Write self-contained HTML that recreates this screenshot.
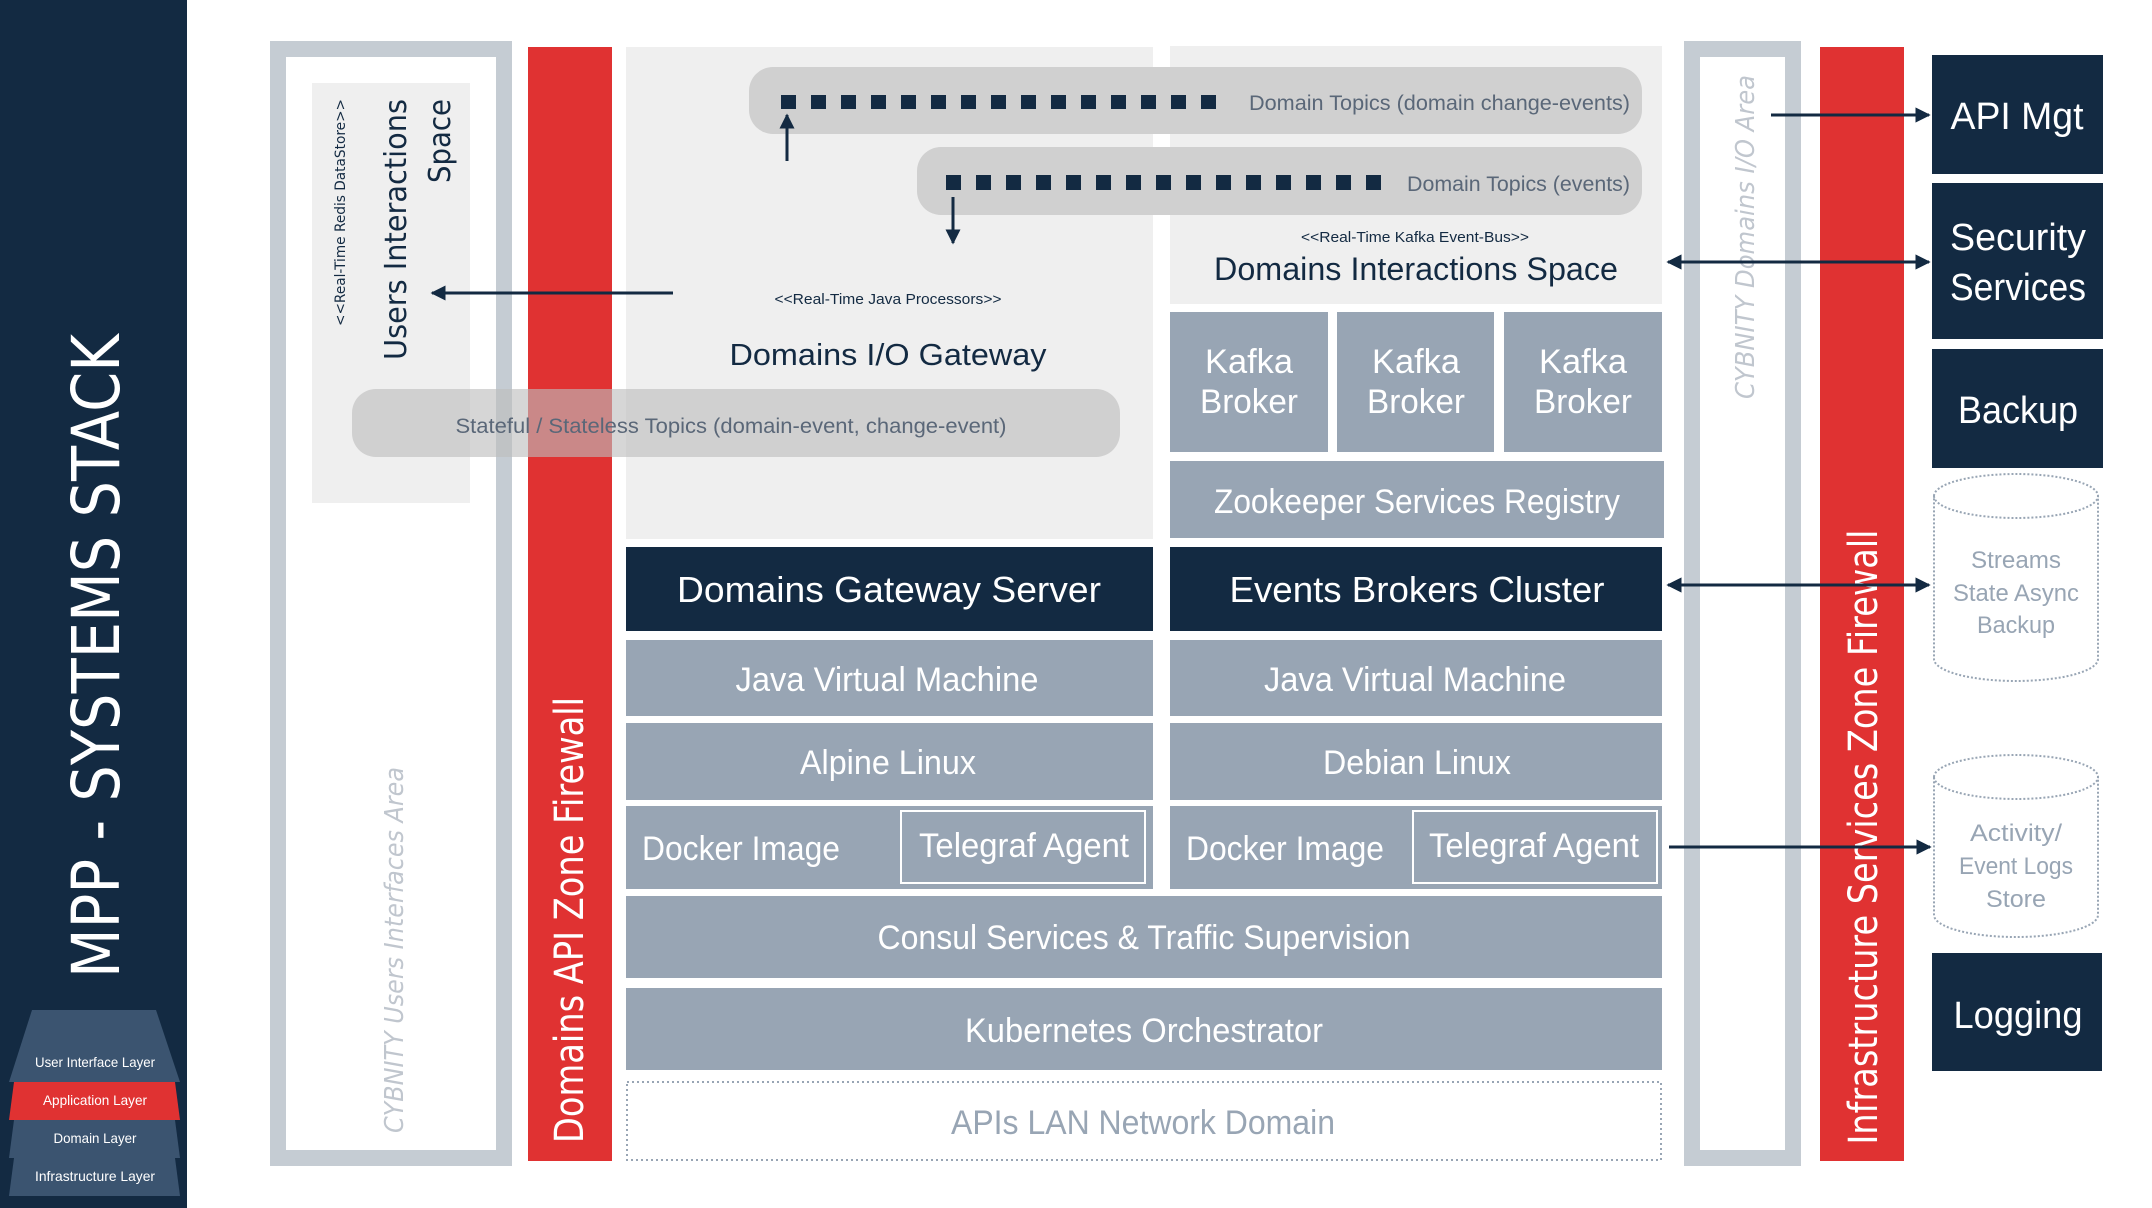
<!DOCTYPE html>
<html><head><meta charset="utf-8"><style>html,body{margin:0;padding:0;background:#fff}svg{display:block}</style></head>
<body>
<svg width="2152" height="1208" viewBox="0 0 2152 1208" xmlns="http://www.w3.org/2000/svg" font-family="Liberation Sans, sans-serif">
<defs>
<marker id="ah" viewBox="0 0 10 10" refX="9" refY="5" markerWidth="5" markerHeight="5" orient="auto-start-reverse"><path d="M0,0 L10,5 L0,10 Z" fill="#132a42"/></marker>
</defs>
<rect x="0" y="0" width="2152" height="1208" fill="#fff"/>
<!-- sidebar -->
<rect x="0" y="0" width="187" height="1208" fill="#132a42"/>
<text transform="translate(119,656) rotate(-90)" text-anchor="middle" font-family="DejaVu Sans, sans-serif" font-size="66" fill="#fff" textLength="644" lengthAdjust="spacingAndGlyphs">MPP - SYSTEMS STACK</text>
<path d="M32,1010 L156,1010 L180,1082 L9,1082 Z" fill="#3b5470"/>
<path d="M14,1082 L175,1082 L180,1120 L9,1120 Z" fill="#e03232"/>
<path d="M14,1120 L175,1120 L180,1158 L9,1158 Z" fill="#3b5470"/>
<path d="M14,1158 L175,1158 L180,1196 L9,1196 Z" fill="#3b5470"/>
<g fill="#fff" font-size="14" text-anchor="middle">
<text x="95" y="1067" textLength="120" lengthAdjust="spacingAndGlyphs">User Interface Layer</text>
<text x="95" y="1105" textLength="104" lengthAdjust="spacingAndGlyphs">Application Layer</text>
<text x="95" y="1143" textLength="83" lengthAdjust="spacingAndGlyphs">Domain Layer</text>
<text x="95" y="1181" textLength="120" lengthAdjust="spacingAndGlyphs">Infrastructure Layer</text>
</g>
<!-- left sketch area -->
<rect x="278" y="49" width="226" height="1109" fill="#fff" stroke="#c5ccd3" stroke-width="16"/>
<rect x="312" y="83" width="158" height="420" fill="#efefef"/>
<text transform="translate(345,99) rotate(-90)" text-anchor="end" font-family="DejaVu Sans, sans-serif" font-size="14" fill="#132a42" textLength="227" lengthAdjust="spacingAndGlyphs">&lt;&lt;Real-Time Redis DataStore&gt;&gt;</text>
<text transform="translate(406,99) rotate(-90)" text-anchor="end" font-family="DejaVu Sans, sans-serif" font-size="30" fill="#132a42" textLength="261" lengthAdjust="spacingAndGlyphs">Users Interactions</text>
<text transform="translate(450,99) rotate(-90)" text-anchor="end" font-family="DejaVu Sans, sans-serif" font-size="30" fill="#132a42" textLength="84" lengthAdjust="spacingAndGlyphs">Space</text>
<text transform="translate(403,950) rotate(-90)" text-anchor="middle" font-family="DejaVu Sans, sans-serif" font-style="italic" font-size="26" fill="#c0c6ce" textLength="366" lengthAdjust="spacingAndGlyphs">CYBNITY Users Interfaces Area</text>
<!-- left red bar -->
<rect x="528" y="47" width="84" height="1114" fill="#e03232"/>
<text transform="translate(583,920) rotate(-90)" text-anchor="middle" font-family="DejaVu Sans, sans-serif" font-size="40" fill="#fff" textLength="446" lengthAdjust="spacingAndGlyphs">Domains API Zone Firewall</text>
<!-- panels -->
<rect x="626" y="47" width="527" height="492" fill="#efefef"/>
<rect x="1170" y="46" width="492" height="258" fill="#efefef"/>
<rect x="749" y="67" width="893" height="67" rx="24" fill="#d0d0d0"/>
<rect x="917" y="147" width="725" height="68" rx="24" fill="#d0d0d0"/>
<g fill="#132a42">
<rect x="781" y="95" width="15" height="14"/><rect x="811" y="95" width="15" height="14"/><rect x="841" y="95" width="15" height="14"/><rect x="871" y="95" width="15" height="14"/><rect x="901" y="95" width="15" height="14"/><rect x="931" y="95" width="15" height="14"/><rect x="961" y="95" width="15" height="14"/><rect x="991" y="95" width="15" height="14"/><rect x="1021" y="95" width="15" height="14"/><rect x="1051" y="95" width="15" height="14"/><rect x="1081" y="95" width="15" height="14"/><rect x="1111" y="95" width="15" height="14"/><rect x="1141" y="95" width="15" height="14"/><rect x="1171" y="95" width="15" height="14"/><rect x="1201" y="95" width="15" height="14"/>
<rect x="946" y="175" width="15" height="15"/><rect x="976" y="175" width="15" height="15"/><rect x="1006" y="175" width="15" height="15"/><rect x="1036" y="175" width="15" height="15"/><rect x="1066" y="175" width="15" height="15"/><rect x="1096" y="175" width="15" height="15"/><rect x="1126" y="175" width="15" height="15"/><rect x="1156" y="175" width="15" height="15"/><rect x="1186" y="175" width="15" height="15"/><rect x="1216" y="175" width="15" height="15"/><rect x="1246" y="175" width="15" height="15"/><rect x="1276" y="175" width="15" height="15"/><rect x="1306" y="175" width="15" height="15"/><rect x="1336" y="175" width="15" height="15"/><rect x="1366" y="175" width="15" height="15"/>
</g>
<g fill="#5a6778" font-size="21">
<text x="1249" y="110" textLength="381" lengthAdjust="spacingAndGlyphs">Domain Topics (domain change-events)</text>
<text x="1407" y="191" textLength="223" lengthAdjust="spacingAndGlyphs">Domain Topics (events)</text>
</g>
<g stroke="#132a42" stroke-width="3" fill="none">
<line x1="787" y1="161" x2="787" y2="115" marker-end="url(#ah)"/>
<line x1="953" y1="197" x2="953" y2="243" marker-end="url(#ah)"/>
<line x1="673" y1="293" x2="432" y2="293" marker-end="url(#ah)"/>
<line x1="1771" y1="115" x2="1929" y2="115" marker-end="url(#ah)"/>
<line x1="1668" y1="262" x2="1929" y2="262" marker-start="url(#ah)" marker-end="url(#ah)"/>
<line x1="1668" y1="585" x2="1929" y2="585" marker-start="url(#ah)" marker-end="url(#ah)"/>
<line x1="1669" y1="847" x2="1930" y2="847" marker-end="url(#ah)"/>
</g>
<text x="888" y="304" text-anchor="middle" font-size="15" fill="#132a42" textLength="227" lengthAdjust="spacingAndGlyphs">&lt;&lt;Real-Time Java Processors&gt;&gt;</text>
<text x="888" y="365" text-anchor="middle" font-size="31" fill="#132a42" textLength="317" lengthAdjust="spacingAndGlyphs">Domains I/O Gateway</text>
<rect x="352" y="389" width="768" height="68" rx="24" fill="#bdbdbd" fill-opacity="0.62"/>
<text x="731" y="433" text-anchor="middle" font-size="21" fill="#5a6778" textLength="551" lengthAdjust="spacingAndGlyphs">Stateful / Stateless Topics (domain-event,  change-event)</text>
<text x="1415" y="242" text-anchor="middle" font-size="15" fill="#132a42" textLength="228" lengthAdjust="spacingAndGlyphs">&lt;&lt;Real-Time Kafka Event-Bus&gt;&gt;</text>
<text x="1416" y="280" text-anchor="middle" font-size="32" fill="#132a42" textLength="404" lengthAdjust="spacingAndGlyphs">Domains Interactions Space</text>
<!-- kafka -->
<g fill="#98a5b4">
<rect x="1170" y="312" width="158" height="140"/>
<rect x="1337" y="312" width="157" height="140"/>
<rect x="1504" y="312" width="158" height="140"/>
<rect x="1170" y="461" width="494" height="77"/>
<rect x="626" y="640" width="527" height="76"/>
<rect x="1170" y="640" width="492" height="76"/>
<rect x="626" y="723" width="527" height="77"/>
<rect x="1170" y="723" width="492" height="77"/>
<rect x="626" y="806" width="527" height="83"/>
<rect x="1170" y="806" width="492" height="83"/>
<rect x="626" y="896" width="1036" height="82"/>
<rect x="626" y="988" width="1036" height="82"/>
</g>
<rect x="626" y="547" width="527" height="84" fill="#132a42"/>
<rect x="1170" y="547" width="492" height="84" fill="#132a42"/>
<rect x="901" y="811" width="244" height="72" fill="none" stroke="#fff" stroke-width="2"/>
<rect x="1413" y="811" width="244" height="72" fill="none" stroke="#fff" stroke-width="2"/>
<rect x="627" y="1082" width="1034" height="78" fill="#fff" stroke="#98a5b4" stroke-width="2" stroke-dasharray="2,3"/>
<g fill="#fff" font-size="34" text-anchor="middle">
<text x="1249" y="373" textLength="88" lengthAdjust="spacingAndGlyphs">Kafka</text>
<text x="1249" y="413" textLength="98" lengthAdjust="spacingAndGlyphs">Broker</text>
<text x="1416" y="373" textLength="88" lengthAdjust="spacingAndGlyphs">Kafka</text>
<text x="1416" y="413" textLength="98" lengthAdjust="spacingAndGlyphs">Broker</text>
<text x="1583" y="373" textLength="88" lengthAdjust="spacingAndGlyphs">Kafka</text>
<text x="1583" y="413" textLength="98" lengthAdjust="spacingAndGlyphs">Broker</text>
<text x="1417" y="513" textLength="406" lengthAdjust="spacingAndGlyphs">Zookeeper Services Registry</text>
<text x="889" y="602" font-size="36" textLength="424" lengthAdjust="spacingAndGlyphs">Domains Gateway Server</text>
<text x="1417" y="602" font-size="36" textLength="375" lengthAdjust="spacingAndGlyphs">Events Brokers Cluster</text>
<text x="887" y="691" textLength="303" lengthAdjust="spacingAndGlyphs">Java Virtual Machine</text>
<text x="1415" y="691" textLength="302" lengthAdjust="spacingAndGlyphs">Java Virtual Machine</text>
<text x="888" y="774" textLength="176" lengthAdjust="spacingAndGlyphs">Alpine Linux</text>
<text x="1417" y="774" textLength="188" lengthAdjust="spacingAndGlyphs">Debian Linux</text>
<text x="741" y="860" textLength="198" lengthAdjust="spacingAndGlyphs">Docker Image</text>
<text x="1285" y="860" textLength="198" lengthAdjust="spacingAndGlyphs">Docker Image</text>
<text x="1024" y="857" textLength="210" lengthAdjust="spacingAndGlyphs">Telegraf Agent</text>
<text x="1534" y="857" textLength="210" lengthAdjust="spacingAndGlyphs">Telegraf Agent</text>
<text x="1144" y="949" textLength="533" lengthAdjust="spacingAndGlyphs">Consul Services &amp; Traffic Supervision</text>
<text x="1144" y="1042" textLength="358" lengthAdjust="spacingAndGlyphs">Kubernetes Orchestrator</text>
<text x="1143" y="1134" fill="#98a5b4" textLength="384" lengthAdjust="spacingAndGlyphs">APIs LAN Network Domain</text>
</g>
<!-- right sketch area -->
<rect x="1692" y="49" width="101" height="1109" fill="#fff" stroke="#c5ccd3" stroke-width="16"/>
<text transform="translate(1754,237) rotate(-90)" text-anchor="middle" font-family="DejaVu Sans, sans-serif" font-style="italic" font-size="26" fill="#c0c6ce" textLength="324" lengthAdjust="spacingAndGlyphs">CYBNITY Domains I/O Area</text>
<rect x="1820" y="47" width="84" height="1114" fill="#e03232"/>
<text transform="translate(1877,837) rotate(-90)" text-anchor="middle" font-family="DejaVu Sans, sans-serif" font-size="40" fill="#fff" textLength="615" lengthAdjust="spacingAndGlyphs">Infrastructure Services Zone Firewall</text>
<!-- redraw arrows crossing the sketch/red bar -->
<g stroke="#132a42" stroke-width="3" fill="none">
<line x1="1771" y1="115" x2="1929" y2="115" marker-end="url(#ah)"/>
<line x1="1668" y1="262" x2="1929" y2="262" marker-start="url(#ah)" marker-end="url(#ah)"/>
<line x1="1668" y1="585" x2="1929" y2="585" marker-start="url(#ah)" marker-end="url(#ah)"/>
<line x1="1669" y1="847" x2="1930" y2="847" marker-end="url(#ah)"/>
</g>
<!-- right services -->
<g fill="#132a42">
<rect x="1932" y="55" width="171" height="119"/>
<rect x="1932" y="183" width="171" height="156"/>
<rect x="1932" y="349" width="171" height="119"/>
<rect x="1932" y="953" width="170" height="118"/>
</g>
<g fill="#fff" font-size="38" text-anchor="middle">
<text x="2017" y="129" textLength="133" lengthAdjust="spacingAndGlyphs">API Mgt</text>
<text x="2018" y="250" textLength="136" lengthAdjust="spacingAndGlyphs">Security</text>
<text x="2018" y="300" textLength="136" lengthAdjust="spacingAndGlyphs">Services</text>
<text x="2018" y="423" textLength="120" lengthAdjust="spacingAndGlyphs">Backup</text>
<text x="2018" y="1028" textLength="129" lengthAdjust="spacingAndGlyphs">Logging</text>
</g>
<g fill="none" stroke="#98a5b4" stroke-width="2" stroke-dasharray="2,2">
<path d="M1934,496 A82,22 0 0 1 2098,496 L2098,659 A82,22 0 0 1 1934,659 Z"/>
<path d="M1934,496 A82,22 0 0 0 2098,496"/>
<path d="M1934,777 A82,22 0 0 1 2098,777 L2098,915 A82,22 0 0 1 1934,915 Z"/>
<path d="M1934,777 A82,22 0 0 0 2098,777"/>
</g>
<g fill="#98a5b4" font-size="24" text-anchor="middle">
<text x="2016" y="568" textLength="90" lengthAdjust="spacingAndGlyphs">Streams</text>
<text x="2016" y="601" textLength="126" lengthAdjust="spacingAndGlyphs">State Async</text>
<text x="2016" y="633" textLength="78" lengthAdjust="spacingAndGlyphs">Backup</text>
<text x="2016" y="841" textLength="92" lengthAdjust="spacingAndGlyphs">Activity/</text>
<text x="2016" y="874" textLength="114" lengthAdjust="spacingAndGlyphs">Event Logs</text>
<text x="2016" y="907" textLength="60" lengthAdjust="spacingAndGlyphs">Store</text>
</g>
</svg>
</body></html>
